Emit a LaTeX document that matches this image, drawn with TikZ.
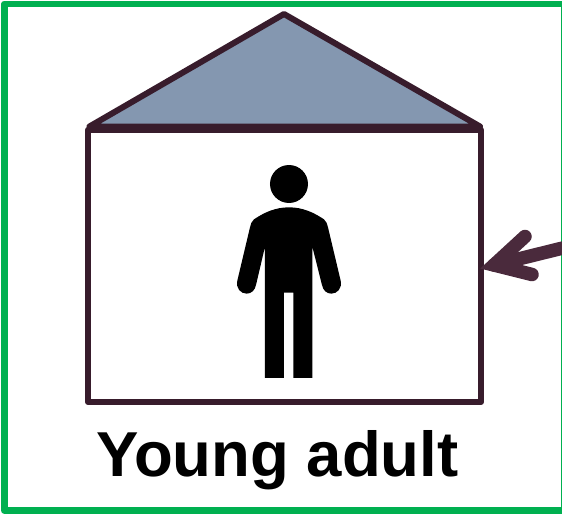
\documentclass[tikz,border=0pt]{standalone}
\usepackage{fontspec}
\setmainfont{Liberation Sans}
\definecolor{frameGreen}{HTML}{00B050}
\definecolor{houseLine}{HTML}{381C2C}
\definecolor{arrowLine}{HTML}{4A2A3C}
\definecolor{roofFill}{HTML}{8497B0}
\tikzset{
  frameline/.style={draw=frameGreen,line width=6.5pt,line join=round},
  houseline/.style={draw=houseLine,line width=6pt,line join=round},
  arrowline/.style={draw=arrowLine,line width=13.5pt,line cap=round,line join=miter},
  housebox/.style={houseline,rectangle,inner sep=0pt,minimum width=393pt,minimum height=272.5pt},
  figure/.style={fill=black,draw=none},
  caption/.style={font=\fontsize{63.5}{70}\selectfont\bfseries,text=black,inner sep=0pt}
}
\begin{document}
\begin{tikzpicture}[x=1pt,y=-1pt]
\useasboundingbox (0,0) rectangle (562,514);
\clip (0,0) rectangle (562,514);
\fill[white] (0,0) rectangle (562,514);
\draw[frameline] (4.3,4) rectangle (564.6,510.5);
% roof
\coordinate (apex) at (284,14);
\coordinate (eaveL) at (89.5,126.5);
\coordinate (eaveR) at (480,126.5);
\filldraw[houseline,fill=roofFill] (eaveL) -- (apex) -- (eaveR) -- cycle;
\node[housebox] (house) at (284.5,265.75) {};
% person
\begin{scope}[shift={(220,150)},x=0.3333pt,y=-0.3333pt]
\fill[figure] (207,102) circle[radius=57];
\fill[figure] (207,172) .. controls (165,172) and (132,188) .. (102,208)
  .. controls (95,214) and (92,222) .. (90,232)
  -- (52,392) .. controls (47,415) and (62,431) .. (80,431)
  .. controls (95,431) and (105,420) .. (108,405)
  -- (135,290) -- (135,684) -- (192,684) -- (192,428) -- (220,428) -- (220,684) -- (277,684) -- (277,290)
  -- (306,405) .. controls (309,420) and (319,431) .. (334,431)
  .. controls (352,431) and (367,415) .. (362,392)
  -- (324,232) .. controls (322,222) and (319,214) .. (312,208)
  .. controls (282,188) and (249,172) .. (207,172) -- cycle;
\end{scope}
% arrow
\coordinate (tail) at (575,245);
\coordinate (armA) at (525,236.5);
\coordinate (armB) at (532,274.5);
\coordinate (tip) at (494,265);
\draw[arrowline] (tail) -- (tip);
\draw[arrowline] (armA) -- (tip) -- (armB);
\node[caption] (label) at (277.5,460) {Young adult};
\end{tikzpicture}
\end{document}
